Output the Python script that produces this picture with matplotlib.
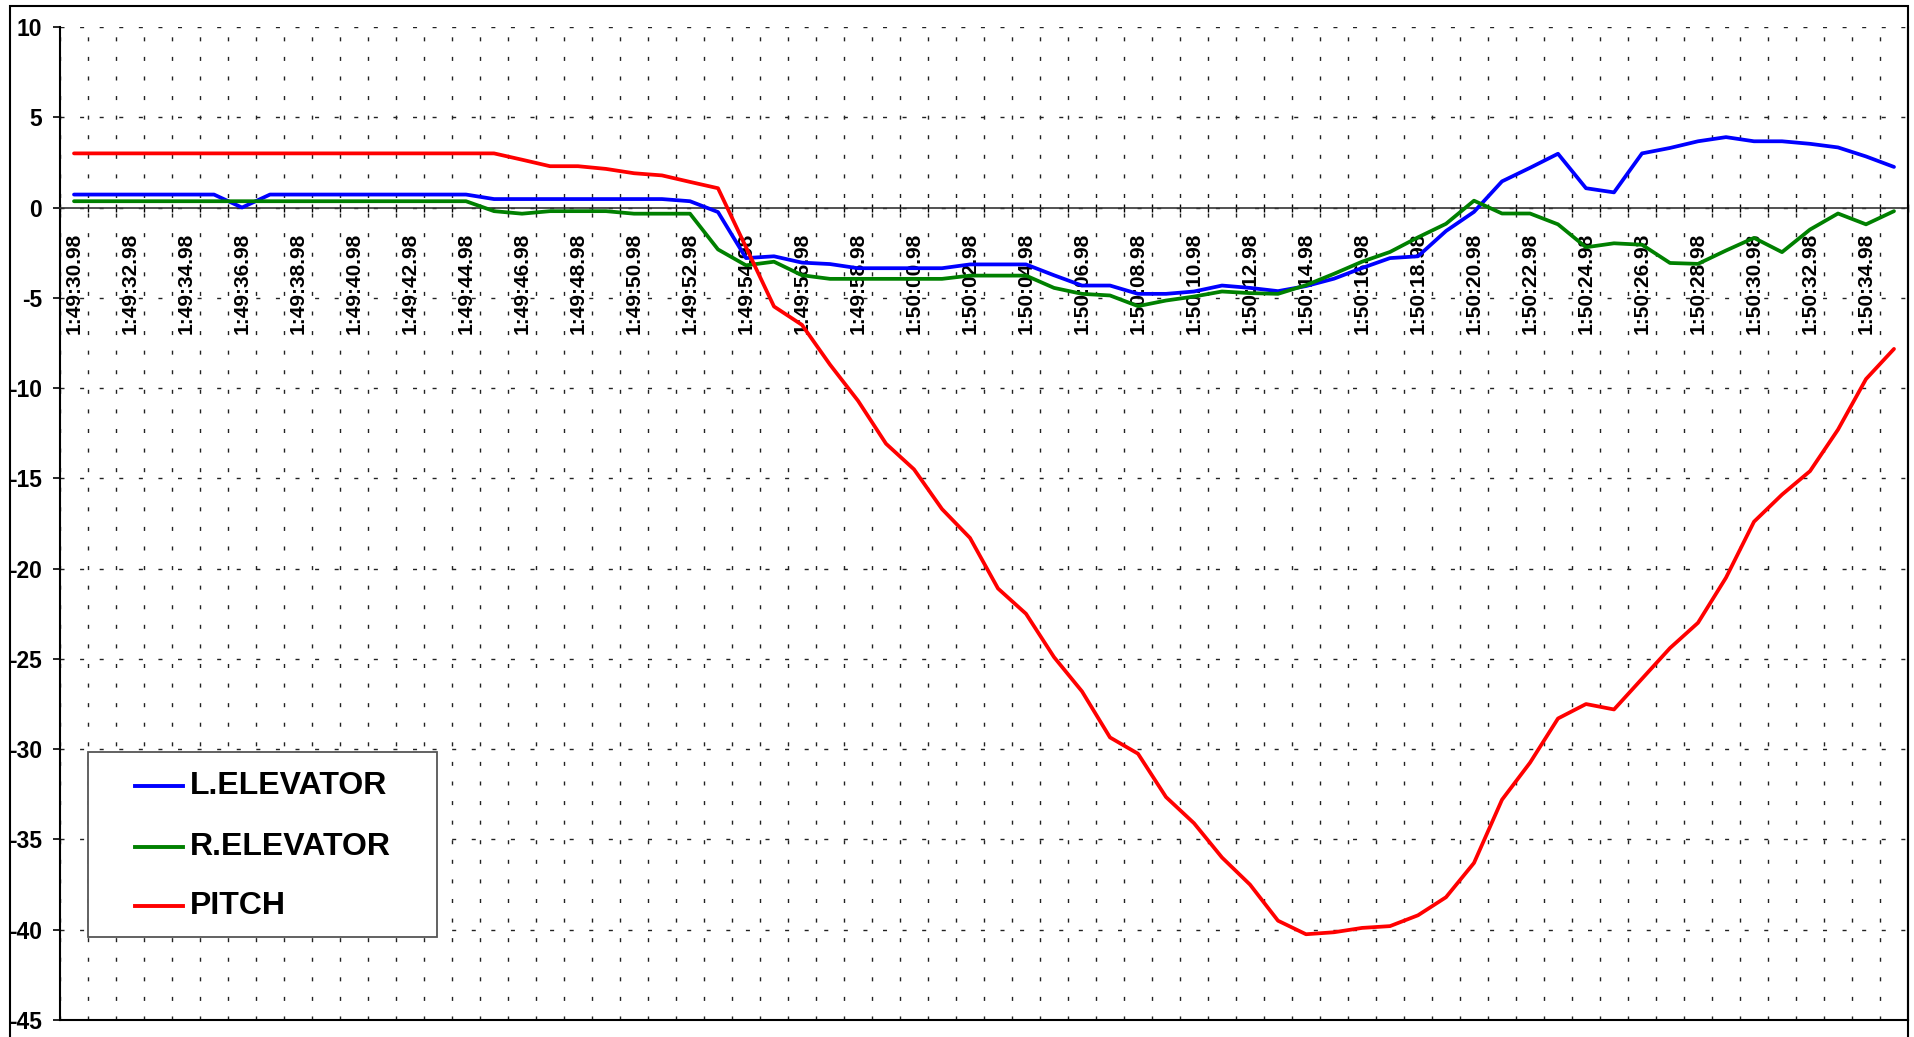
import numpy as np
import matplotlib
matplotlib.use('Agg')
import matplotlib.pyplot as plt
from matplotlib.lines import Line2D
from matplotlib.patches import Rectangle

plt.rcParams['font.family'] = ['Liberation Sans', 'DejaVu Sans']
plt.rcParams['font.weight'] = 'bold'
plt.rcParams['axes.unicode_minus'] = False
plt.rcParams['lines.scale_dashes'] = False

# one sample per second, starting at 1:49:30.98
times = [f"1:{49 + (30 + k) // 60}:{(30 + k) % 60:02d}.98" for k in range(66)]

l_elevator = [
    0.72, 0.72, 0.72, 0.72, 0.72, 0.72, 0.0, 0.72, 0.72, 0.72,
    0.72, 0.72, 0.72, 0.72, 0.72, 0.47, 0.47, 0.47, 0.47, 0.47,
    0.47, 0.47, 0.35, -0.25, -2.8, -2.7, -3.05, -3.13, -3.36, -3.36,
    -3.36, -3.36, -3.15, -3.15, -3.15, -3.75, -4.32, -4.32, -4.78, -4.78,
    -4.65, -4.32, -4.45, -4.63, -4.35, -3.94, -3.35, -2.8, -2.7, -1.3,
    -0.24, 1.45, 2.2, 2.98, 1.07, 0.84, 3.0, 3.3, 3.67, 3.9,
    3.67, 3.67, 3.53, 3.33, 2.83, 2.25]

r_elevator = [
    0.35, 0.35, 0.35, 0.35, 0.35, 0.35, 0.35, 0.35, 0.35, 0.35,
    0.35, 0.35, 0.35, 0.35, 0.35, -0.2, -0.34, -0.2, -0.2, -0.2,
    -0.34, -0.34, -0.34, -2.32, -3.2, -3.0, -3.75, -3.95, -3.95, -3.95,
    -3.95, -3.95, -3.77, -3.77, -3.77, -4.45, -4.78, -4.87, -5.46, -5.15,
    -4.93, -4.65, -4.74, -4.78, -4.3, -3.67, -3.0, -2.46, -1.65, -0.9,
    0.38, -0.33, -0.33, -0.93, -2.2, -1.98, -2.06, -3.07, -3.12, -2.38,
    -1.68, -2.47, -1.22, -0.33, -0.93, -0.2]

pitch = [
    3.0, 3.0, 3.0, 3.0, 3.0, 3.0, 3.0, 3.0, 3.0, 3.0,
    3.0, 3.0, 3.0, 3.0, 3.0, 3.0, 2.65, 2.29, 2.29, 2.14,
    1.9, 1.78, 1.42, 1.07, -2.2, -5.48, -6.5, -8.7, -10.7, -13.08,
    -14.5, -16.7, -18.3, -21.1, -22.5, -24.9, -26.8, -29.35, -30.25, -32.65,
    -34.1, -36.0, -37.5, -39.5, -40.25, -40.14, -39.9, -39.8, -39.2, -38.2,
    -36.3, -32.8, -30.75, -28.3, -27.5, -27.8, -26.1, -24.4, -23.0, -20.5,
    -17.4, -15.9, -14.6, -12.3, -9.5, -7.83]

series = [('L.ELEVATOR', l_elevator, '#0000FF'),
          ('R.ELEVATOR', r_elevator, '#008000'),
          ('PITCH', pitch, '#FF0000')]

W, H = 1915, 1037
fig = plt.figure(figsize=(W / 100, H / 100), dpi=100)
ax = fig.add_axes([60 / W, 1 - 1020 / H, (1908 - 60) / W, (1020 - 27) / H])

x = np.arange(len(times))
for name, vals, col in series:
    ax.plot(x, vals, color=col, lw=2.7, zorder=3,
            solid_joinstyle='round', solid_capstyle='round')

ax.set_xlim(-0.5, len(times) - 0.5)
ax.set_ylim(-45, 10)
ax.set_yticks(np.arange(-45, 11, 5))

# tick marks sit between categories, labels on every second category
ax.set_xticks(np.arange(-0.5, len(times), 1))
ax.set_xticklabels([])
ax.set_xticks(x[:65:2], minor=True)
ax.set_xticklabels(times[:65:2], minor=True)
ax.tick_params(axis='x', which='major', direction='inout', length=6, width=1)
ax.tick_params(axis='x', which='minor', length=0, pad=18, labelsize=15,
               labelrotation=90)
for lbl in ax.get_xticklabels(minor=True):
    lbl.set_fontfamily(['Liberation Sans Narrow', 'Liberation Sans'])
ax.tick_params(axis='y', direction='out', length=5, width=1.2, labelsize=16.5, pad=8)

ax.grid(True, which='major', color='#222222', linewidth=1.0,
        linestyle=(0, (2.9, 11.2)))

ax.spines['bottom'].set_position(('data', 0))
ax.spines['bottom'].set_color('#333333')
ax.spines['bottom'].set_linewidth(1.2)
ax.spines['top'].set_visible(False)
ax.spines['left'].set_linewidth(1.5)
ax.spines['right'].set_linewidth(1.5)
ax.axhline(-45, color='black', lw=1.5, clip_on=False)

# outer chart border
fig.add_artist(Rectangle((10 / W, -0.05), (1908 - 10) / W, (H - 6) / H + 0.05,
                         transform=fig.transFigure, fill=False,
                         edgecolor='black', lw=1.5))

# legend box
fig.add_artist(Rectangle((88 / W, 1 - 937 / H), 349 / W, 185 / H,
                         transform=fig.transFigure, facecolor='white',
                         edgecolor='#555555', lw=1.3, zorder=10))
for (name, vals, col), ry in zip(series, [786, 847, 906]):
    fy = 1 - ry / H
    fig.add_artist(Line2D([135 / W, 183 / W], [fy, fy], transform=fig.transFigure,
                          color=col, lw=2.8, zorder=11))
    fig.text(190 / W, fy, name, fontsize=23, fontweight='bold',
             va='center', ha='left', zorder=11)

fig.savefig('out.png', dpi=100)
